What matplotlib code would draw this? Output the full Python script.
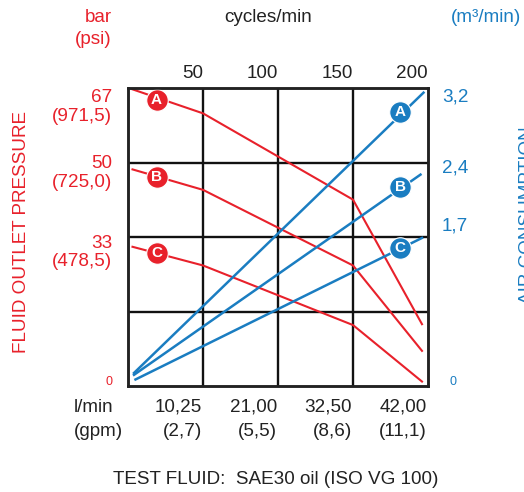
import matplotlib.pyplot as plt
import numpy as np

plt.rcParams['font.family'] = ['Liberation Sans', 'DejaVu Sans']

RED = '#e8212b'
BLUE = '#1a7dc1'
W, H = 524, 492

# cycles/min on x, bar on left y, m3/min on right y
cycles = [0, 50, 100, 150, 200]
flow_lpm = ['10,25', '21,00', '32,50', '42,00']
flow_gpm = ['(2,7)', '(5,5)', '(8,6)', '(11,1)']

press_x = [3, 50, 150, 196]
press_A = [66.7, 61.3, 41.9, 13.9]
press_B = [48.7, 44.1, 27.1, 7.9]
press_C = [31.3, 27.1, 13.7, 1.0]

air_x = {'A': [4, 197], 'B': [4, 195], 'C': [5, 196]}
air_A = [0.14, 3.15]
air_B = [0.12, 2.27]
air_C = [0.07, 1.59]

press_ticks = ['67\n(971,5)', '50\n(725,0)', '33\n(478,5)']
press_tick_y = [107, 173, 252.5]
air_ticks = ['3,2', '2,4', '1,7']
air_tick_y = [97, 168, 226]

red_lbl = {'A': (19, 64.2), 'B': (19, 47.1), 'C': (19.5, 29.8)}
blue_lbl = {'A': (181.5, 2.94), 'B': (181.5, 2.14), 'C': (181.5, 1.48)}


def fx(x):
    return x / W


def fy(y):
    return 1 - y / H


fig = plt.figure(figsize=(W / 100, H / 100), dpi=100)
ax = fig.add_axes([fx(128), fy(386), 300 / W, 298 / H])
ax.set_xlim(0, 200)
ax.set_ylim(0, 67)
ax2 = ax.twinx()
ax2.set_ylim(0, 3.2)

for a in (ax, ax2):
    a.set_xticks([])
    a.set_yticks([])
    for s in a.spines.values():
        s.set_linewidth(1.8)
        s.set_color('#222222')

for c in cycles[1:4]:
    ax.axvline(c, color='#111111', lw=1.7)
for k in (1, 2, 3):
    ax.axhline(67 * k / 4, color='#111111', lw=1.7)

for ys in (press_A, press_B, press_C):
    ax.plot(press_x, ys, color=RED, lw=1.5)
for key, ys in zip('ABC', (air_A, air_B, air_C)):
    ax2.plot(air_x[key], ys, color=BLUE, lw=1.8)

for key, (x, y) in red_lbl.items():
    ax.plot(x, y, 'o', ms=15.5, color=RED, mec='white', mew=0.8, zorder=5)
    ax.text(x, y, key, color='white', fontsize=11, fontweight='bold',
            ha='center', va='center', zorder=6)
for key, (x, y) in blue_lbl.items():
    ax2.plot(x, y, 'o', ms=15.5, color=BLUE, mec='white', mew=0.8, zorder=5)
    ax2.text(x, y, key, color='white', fontsize=11, fontweight='bold',
             ha='center', va='center', zorder=6)

fs = 13.6
# top labels
fig.text(fx(112), fy(18), 'bar', color=RED, fontsize=fs, ha='right', va='center')
fig.text(fx(112), fy(40), '(psi)', color=RED, fontsize=fs, ha='right', va='center')
fig.text(fx(268), fy(18), 'cycles/min', color='#222222', fontsize=fs, ha='center', va='center')
fig.text(fx(521), fy(18), '(m\u00b3/min)', color=BLUE, fontsize=fs, ha='right', va='center')
for i, c in enumerate(cycles[1:]):
    fig.text(fx(203 + 75 * i), fy(74), str(c), color='#222222', fontsize=fs,
             ha='right', va='center')

# left axis labels
for t, y in zip(press_ticks, press_tick_y):
    fig.text(fx(112), fy(y), t, color=RED, fontsize=fs, ha='right', va='center',
             linespacing=1.1)
fig.text(fx(112), fy(382), '0', color=RED, fontsize=9, ha='right', va='center')
fig.text(fx(22), fy(232), 'FLUID OUTLET PRESSURE', color=RED, fontsize=fs,
         rotation=90, ha='center', va='center')

# right axis labels
for t, y in zip(air_ticks, air_tick_y):
    fig.text(fx(442), fy(y), t, color=BLUE, fontsize=fs, ha='left', va='center')
fig.text(fx(450), fy(382), '0', color=BLUE, fontsize=9, ha='left', va='center')
fig.text(fx(519), fy(215), 'AIR CONSUMPTION', color=BLUE, fontsize=fs,
         rotation=90, ha='left', va='center')

# bottom labels
fig.text(fx(74), fy(407), 'l/min', color='#222222', fontsize=fs, ha='left', va='center')
fig.text(fx(74), fy(432), '(gpm)', color='#222222', fontsize=fs, ha='left', va='center')
for i, (a, b) in enumerate(zip(flow_lpm, flow_gpm)):
    fig.text(fx(202 + 75 * i), fy(407), a, color='#222222', fontsize=fs,
             ha='right', va='center')
    fig.text(fx(202 + 75 * i), fy(432), b, color='#222222', fontsize=fs,
             ha='right', va='center')

fig.text(fx(276), fy(480), 'TEST FLUID:  SAE30 oil (ISO VG 100)', color='#222222',
         fontsize=fs, ha='center', va='center')

fig.savefig('out.png', dpi=100)
